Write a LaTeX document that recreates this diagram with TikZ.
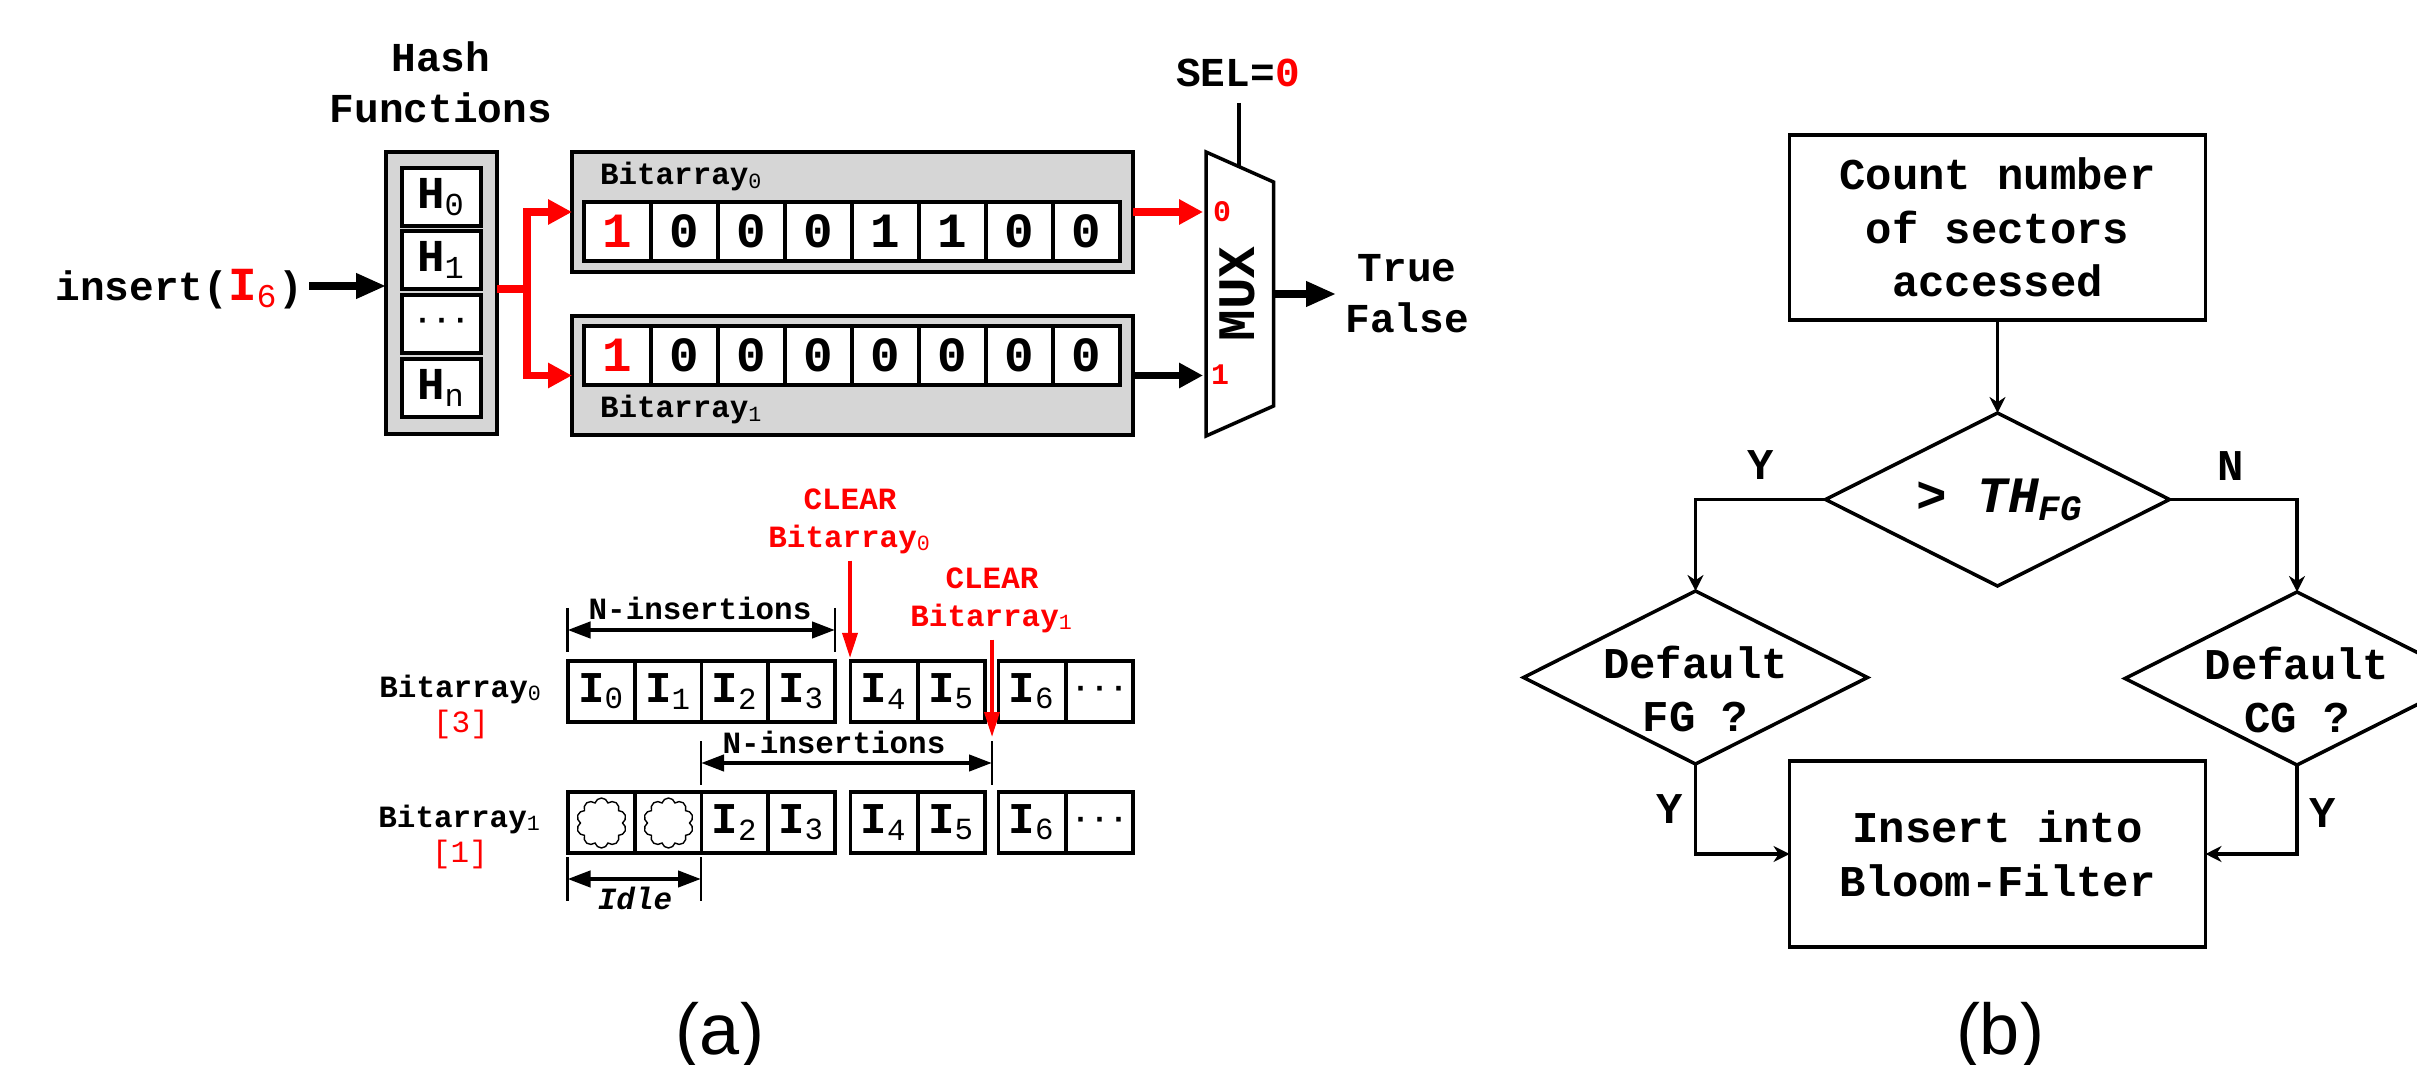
\documentclass[tikz,border=0pt]{standalone}
\usepackage{fontspec}
\setmainfont{Liberation Mono}
\newfontfamily\capfont{Liberation Sans}
\usetikzlibrary{arrows.meta, positioning, calc, shapes.geometric, shapes.symbols}

\newcommand{\subn}[1]{\textsubscript{\mdseries #1}}
\newcommand{\hot}[1]{\textcolor{red}{#1}}

\begin{document}
\begin{tikzpicture}[
    x=0.1mm, y=-0.1mm,
    every node/.style={inner sep=0pt, outer sep=0pt},
    lbl/.style={font=\fontsize{11.7}{14.5}\selectfont\bfseries, align=center},
    small/.style={font=\fontsize{8.8}{10.8}\selectfont\bfseries, align=center},
    side/.style={font=\fontsize{8.8}{8.3}\selectfont\bfseries, align=center},
    flow/.style={font=\fontsize{12.5}{15.2}\selectfont\bfseries, align=center},
    grp/.style={rectangle, draw, line width=1.1pt, fill=black!16},
    hbox/.style={rectangle, draw, line width=1pt, fill=white, minimum width=7.9mm,
                 minimum height=5.8mm, font=\fontsize{13}{13}\selectfont\bfseries},
    bit/.style={rectangle, draw, line width=0.9pt, fill=white, minimum width=6.7mm,
                minimum height=5.9mm, font=\fontsize{14}{14}\selectfont\bfseries},
    slot/.style={rectangle, draw, line width=0.9pt, fill=white, minimum width=6.7mm,
                 minimum height=6.1mm, font=\fontsize{12.5}{12.5}\selectfont\bfseries},
    puff/.style={cloud, draw, line width=0.4pt, cloud puffs=10, aspect=1,
                 minimum width=5mm, minimum height=5mm},
    fbox/.style={rectangle, draw, line width=1.1pt, minimum width=41.6mm},
    dec/.style={diamond, draw, line width=1pt, minimum width=34.4mm, minimum height=17.3mm},
    fat/.style={-{Triangle[length=3mm, width=2.4mm]}, line width=2pt},
    dim/.style={{Triangle[length=2.3mm, width=1.6mm]}-{Triangle[length=2.3mm, width=1.6mm]}, line width=1.2pt},
    tick/.style={line width=0.8pt},
    clr/.style={-{Triangle[length=2.5mm, width=1.5mm]}, red, line width=1pt},
    arr/.style={-{Stealth[length=1.6mm, width=1.6mm]}, line width=0.9pt},
]
    \useasboundingbox (0,0) rectangle (2417,1065);

    % ── Hash functions ──
    \node[lbl] (hashlbl) at (441,82) {Hash\\Functions};
    \node[grp, minimum width=11.1mm, minimum height=28.2mm] (hash) at (441.5,293) {};
    \node[hbox] (h0) at (441.5,197) {H\subn{0}};
    \node[hbox] (h1) at (441.5,260) {H\subn{1}};
    \node[hbox] (hd) at (441.5,324) {\fontsize{9}{9}\selectfont ···};
    \node[hbox] (hn) at (441.5,388) {H\subn{n}};

    \node[lbl, anchor=east] (ins) at (303,289) {insert(\hot{\fontsize{13.5}{14}\selectfont I\subn{6}})};
    \coordinate (insout) at (309,286);
    \coordinate (hashin) at (hash.west |- insout);
    \draw[fat] (insout) -- (hashin);

    % ── Bitarrays ──
    \node[grp, minimum width=56.1mm, minimum height=12mm] (ba0) at (852.5,212) {};
    \node[grp, minimum width=56.1mm, minimum height=11.9mm] (ba1) at (852.5,375.5) {};
    \node[small, anchor=west] (ba0lbl) at (600,177) {Bitarray\subn{0}};
    \node[small, anchor=west] (ba1lbl) at (600,410) {Bitarray\subn{1}};

    \foreach \val [count=\i from 0] in {\hot{1},0,0,0,1,1,0,0}
        \node[bit] (a\i) at ({617.5+67*\i},231.5) {\val};
    \foreach \val [count=\i from 0] in {\hot{1},0,0,0,0,0,0,0}
        \node[bit] (b\i) at ({617.5+67*\i},355.5) {\val};

    \coordinate (hashout) at (497,289);
    \coordinate (bus) at (527,289);
    \draw[-{Triangle[length=2.4mm, width=2.4mm]}, red, line width=2pt] (hashout) -- (bus) |- (ba0.west);
    \draw[-{Triangle[length=2.4mm, width=2.4mm]}, red, line width=2pt] (bus) |- (ba1.west);

    % ── MUX ──
    \draw[line width=1pt, fill=white] (1206,152) coordinate (muxa) -- (1273.5,182) coordinate (muxb)
        -- (1273.5,406) coordinate (muxc) -- (1206,436) coordinate (muxd) -- cycle;
    \coordinate (mux0) at (1203,212);
    \coordinate (mux1) at (1203,375.5);
    \coordinate (muxout) at (1273.5,294);
    \coordinate (muxsel) at (1239,167);
    \coordinate (selend) at (1239,103);
    \coordinate (outend) at (1336,294);
    \node[font=\fontsize{15}{15}\selectfont\bfseries, rotate=90] (muxlbl) at (1237,294) {MUX};
    \node[font=\fontsize{8.5}{8.5}\selectfont\bfseries, text=red] (m0) at (1222,212) {0};
    \node[font=\fontsize{8.5}{8.5}\selectfont\bfseries, text=red] (m1) at (1220,375) {1};
    \node[lbl] (sel) at (1238,73) {SEL=\hot{0}};
    \node[lbl] (tf) at (1407,294) {True\\False};

    \draw[line width=0.9pt] (selend) -- (muxsel);
    \draw[-{Triangle[length=2.4mm, width=2.4mm]}, red, line width=2pt] (ba0.east) -- (mux0);
    \draw[-{Triangle[length=2.4mm, width=2.4mm]}, line width=2pt] (ba1.east) -- (mux1);
    \draw[fat] (muxout) -- (outend);

    % ── Timeline rows ──
    \node[side] (row0) at (461,707) {Bitarray\subn{0}\\[0.2em]\hot{\mdseries [3]}};
    \node[side] (row1) at (460,837) {Bitarray\subn{1}\\[0.2em]\hot{\mdseries [1]}};

    \foreach \px/\txt in {601.5/I\subn{0}, 668.5/I\subn{1}, 735/I\subn{2}, 801.5/I\subn{3},
                          884/I\subn{4}, 951.5/I\subn{5}, 1032/I\subn{6}}
        \node[slot] at (\px,691.5) {\txt};
    \node[slot] (rd0) at (1099.5,691.5) {\fontsize{9}{9}\selectfont ···};

    \foreach \px/\txt in {601.5/{}, 668.5/{}, 735/I\subn{2}, 801.5/I\subn{3},
                          884/I\subn{4}, 951.5/I\subn{5}, 1032/I\subn{6}}
        \node[slot] at (\px,822.5) {\txt};
    \node[slot] (rd1) at (1099.5,822.5) {\fontsize{9}{9}\selectfont ···};
    \node[puff] (idle0) at (601.5,823) {};
    \node[puff] (idle1) at (668.5,823) {};

    % ── N-insertions / Idle spans ──
    \coordinate (n0l) at (567.5,630);
    \coordinate (n0r) at (835,630);
    \coordinate (n1l) at (701,763);
    \coordinate (n1r) at (992,763);
    \coordinate (il) at (567.5,879);
    \coordinate (ir) at (701,879);
    \foreach \pt in {n0l,n0r,n1l,n1r,il,ir}
        \draw[tick] (\pt) ++(0,-22) -- ++(0,44);
    \draw[dim] (n0l) -- (n0r);
    \draw[dim] (n1l) -- (n1r);
    \draw[dim] (il) -- (ir);
    \node[small] (n0lbl) at (700,608) {N-insertions};
    \node[small] (n1lbl) at (834,742) {N-insertions};
    \node[small] (idlelbl) at (635,898) {\itshape Idle};

    % ── CLEAR markers ──
    \node[small, text=red] (clr0) at (850,521) {CLEAR\\Bitarray\subn{0}};
    \node[small, text=red] (clr1) at (992,600) {CLEAR\\Bitarray\subn{1}};
    \coordinate (clr0tip) at (850,658);
    \coordinate (clr1tip) at (992,737);
    \draw[clr] (clr0.south -| clr0tip) ++(0,7) -- (clr0tip);
    \draw[clr] (clr1.south -| clr1tip) ++(0,7) -- (clr1tip);

    % ── Flow chart ──
    \node[fbox, minimum height=18.5mm, flow] (cnt) at (1997.5,227.5) {Count number\\of sectors\\accessed};
    \node[dec] (thfg) at (1997.5,499.5) {};
    \node[font=\fontsize{14.5}{15}\selectfont\bfseries] (thtxt) at (2000,500) {> \itshape TH\textsubscript{FG}};
    \node[dec] (dfg) at (1695.5,677.5) {};
    \node[flow] (dfgtxt) at (1695.5,689) {Default\\FG ?};
    \node[dec] (dcg) at (2297,678.5) {};
    \node[flow] (dcgtxt) at (2297,690) {Default\\CG ?};
    \node[fbox, minimum height=18.6mm, flow] (bf) at (1997.5,854) {Insert into\\Bloom-Filter};

    \draw[arr] (cnt.south) -- (thfg.north);
    \draw[arr] (thfg.west) -| (dfg.north);
    \draw[arr] (thfg.east) -| (dcg.north);
    \draw[arr] (dfg.south) |- (bf.west);
    \draw[arr] (dcg.south) |- (bf.east);

    \node[flow] (yl) at (1761,465) {Y};
    \node[flow] (nr) at (2231,466) {N};
    \node[flow] (yfg) at (1670,809) {Y};
    \node[flow] (ycg) at (2323,813) {Y};

    % ── Captions ──
    \node[font=\capfont\fontsize{20.5}{22}\selectfont, anchor=base] (capa) at (720,1054) {(a)};
    \node[font=\capfont\fontsize{20.5}{22}\selectfont, anchor=base] (capb) at (2000,1054) {(b)};

\end{tikzpicture}
\end{document}
